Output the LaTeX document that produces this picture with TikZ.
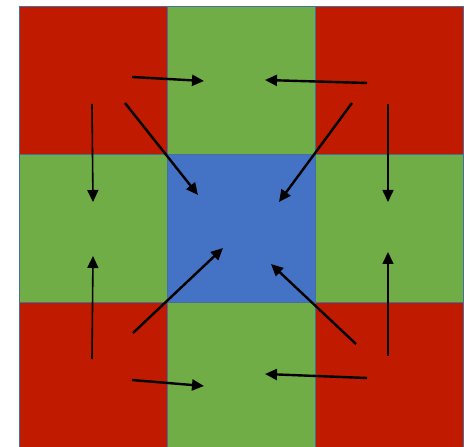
\documentclass[tikz,border=0pt]{standalone}
\usetikzlibrary{arrows.meta,positioning}
\definecolor{cellred}{HTML}{C01A00}
\definecolor{cellgreen}{HTML}{70AD47}
\definecolor{cellblue}{HTML}{4472C4}
\definecolor{cellline}{HTML}{41719C}
\begin{document}
\begin{tikzpicture}[x=1pt,y=1pt,node distance=0pt and 0pt,
cell/.style={draw=cellline,line width=0.8pt,minimum width=148pt,minimum height=148pt,inner sep=0pt,outer sep=0pt},
redcell/.style={cell,fill=cellred},greencell/.style={cell,fill=cellgreen},bluecell/.style={cell,fill=cellblue},
flow/.style={-{Triangle[length=12pt,width=11pt]},line width=2.4pt},
drop/.style={-{Triangle[length=12pt,width=11pt]},line width=1.6pt}]
\useasboundingbox (0,0) rectangle (464,447);
\clip (0,0) rectangle (464,447);
% the nine cells
\node[bluecell] (mid) at (241,219) {};
\node[greencell,above=of mid] (top) {};
\node[greencell,below=of mid] (bot) {};
\node[greencell,left=of mid] (lft) {};
\node[greencell,right=of mid] (rgt) {};
\node[redcell,left=of top] (tl) {};
\node[redcell,right=of top] (tr) {};
\node[redcell,left=of bot] (bl) {};
\node[redcell,right=of bot] (br) {};
% arrow ends
\coordinate (tl-h) at (132,370); \coordinate (top-l) at (204,366);
\coordinate (tl-v) at (92,343); \coordinate (lft-t) at (93,245);
\coordinate (tl-d) at (125,344); \coordinate (mid-tl) at (198,252);
\coordinate (tr-h) at (367,364); \coordinate (top-r) at (265,367);
\coordinate (tr-d) at (352,344); \coordinate (mid-tr) at (279,245);
\coordinate (tr-v) at (388,343); \coordinate (rgt-t) at (388,245);
\coordinate (bl-v) at (92,88); \coordinate (lft-b) at (93,191);
\coordinate (bl-d) at (133,114); \coordinate (mid-bl) at (223,199);
\coordinate (bl-h) at (132,67); \coordinate (bot-l) at (204,61);
\coordinate (br-d) at (356,103); \coordinate (mid-br) at (271,183);
\coordinate (br-v) at (388,91); \coordinate (rgt-b) at (388,195);
\coordinate (br-h) at (367,69); \coordinate (bot-r) at (265,73);
% arrows
\draw[flow] (tl-h)--(top-l); \draw[drop] (tl-v)--(lft-t); \draw[flow] (tl-d)--(mid-tl);
\draw[flow] (tr-h)--(top-r); \draw[flow] (tr-d)--(mid-tr); \draw[drop] (tr-v)--(rgt-t);
\draw[drop] (bl-v)--(lft-b); \draw[flow] (bl-d)--(mid-bl); \draw[flow] (bl-h)--(bot-l);
\draw[flow] (br-d)--(mid-br); \draw[drop] (br-v)--(rgt-b); \draw[flow] (br-h)--(bot-r);
\end{tikzpicture}
\end{document}
